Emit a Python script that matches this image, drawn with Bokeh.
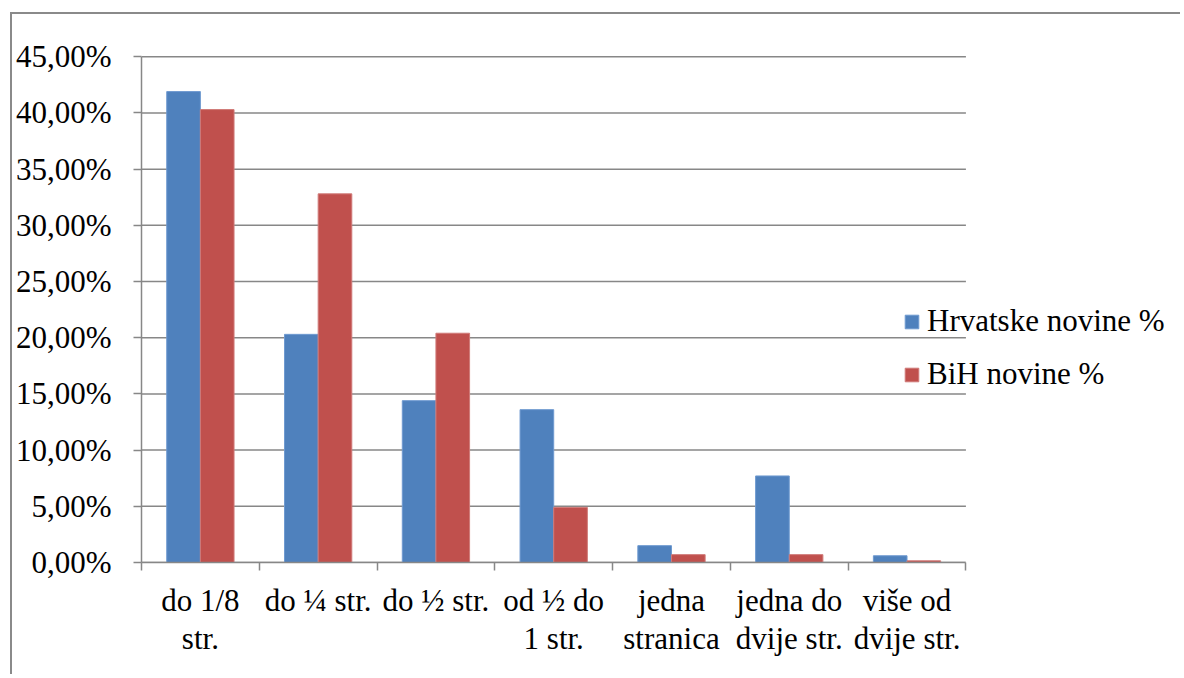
from bokeh.plotting import figure
from bokeh.models import FixedTicker, Legend, LegendItem, Range1d
from bokeh.embed import file_html
from bokeh.resources import INLINE

categories = ["do 1/8\nstr.", "do ¼ str.", "do ½ str.", "od ½ do\n1 str.",
              "jedna\nstranica", "jedna do\ndvije str.", "više od\ndvije str."]
hrvatske = [41.9, 20.3, 14.4, 13.6, 1.5, 7.7, 0.6]
bih = [40.3, 32.8, 20.4, 4.9, 0.7, 0.7, 0.15]
series_names = ["Hrvatske novine %", "BiH novine %"]
y_ticks = [0, 5, 10, 15, 20, 25, 30, 35, 40, 45]
y_tick_labels = ["0,00%", "5,00%", "10,00%", "15,00%", "20,00%", "25,00%",
                 "30,00%", "35,00%", "40,00%", "45,00%"]

FONT = "Liberation Serif"
FS = "31px"
GRAY = "#878787"
BLUE = "#4F81BD"
RED = "#C0504D"

n = len(categories)
W, H = 1170, 662
LEFT, TOP, BOTTOM = 127, 31, 114
cat_px = 118.0                     # pixel width of one category slot
frame_w = 826 + (W - LEFT - 826)   # frame runs to the canvas right edge
x_end = frame_w / cat_px

p = figure(width=W, height=H, output_backend="svg", toolbar_location=None,
           x_range=Range1d(0, x_end), y_range=Range1d(0, 46),
           min_border_left=LEFT, min_border_right=0, min_border_top=TOP,
           min_border_bottom=BOTTOM)
p.styles = {"margin-top": "12px", "margin-left": "10px",
            "border-top": "2px solid #8a8a8a", "border-left": "2px solid #8a8a8a"}
p.outline_line_color = None
p.background_fill_color = "white"
p.border_fill_color = "white"

# horizontal grid lines limited to the category area
p.segment(x0=[0] * len(y_ticks), x1=[n] * len(y_ticks), y0=y_ticks, y1=y_ticks,
          line_color=GRAY, line_width=1.5, level="underlay")

bw = 1 / 3.5
centers = [i + 0.5 for i in range(n)]
r1 = p.vbar(x=[c - bw / 2 for c in centers], top=hrvatske, width=bw, bottom=0,
            fill_color=BLUE, line_color="#6f9ad0", line_width=1)
r2 = p.vbar(x=[c + bw / 2 for c in centers], top=bih, width=bw, bottom=0,
            fill_color=RED, line_color="#d07a78", line_width=1)

# x axis
xa = p.xaxis[0]
xa.bounds = (0, n)
xa.ticker = FixedTicker(ticks=centers, minor_ticks=list(range(n + 1)))
xa.major_label_overrides = {c: lbl for c, lbl in zip(centers, categories)}
xa.major_tick_out = 0
xa.major_tick_in = 0
xa.minor_tick_out = 8
xa.minor_tick_in = 0
xa.minor_tick_line_color = GRAY
xa.minor_tick_line_width = 1.5
xa.axis_line_color = GRAY
xa.axis_line_width = 1.5
xa.major_label_text_font = FONT
xa.major_label_text_font_size = FS
xa.major_label_text_color = "black"
xa.major_label_text_line_height = 1.11
xa.major_label_standoff = 12

# y axis
ya = p.yaxis[0]
ya.bounds = (0, 45)
ya.ticker = FixedTicker(ticks=y_ticks, minor_ticks=[])
ya.major_label_overrides = {t: lbl for t, lbl in zip(y_ticks, y_tick_labels)}
ya.major_tick_out = 8
ya.major_tick_in = 0
ya.major_tick_line_color = GRAY
ya.major_tick_line_width = 1.5
ya.axis_line_color = GRAY
ya.axis_line_width = 1.5
ya.major_label_text_font = FONT
ya.major_label_text_font_size = FS
ya.major_label_text_color = "black"
ya.major_label_standoff = 22

p.xgrid.grid_line_color = None
p.ygrid.grid_line_color = None

legend = Legend(items=[LegendItem(label=series_names[0], renderers=[r1]),
                       LegendItem(label=series_names[1], renderers=[r2])],
                location=(762, 170))
legend.label_text_font = FONT
legend.label_text_font_size = FS
legend.label_text_color = "black"
legend.glyph_width = 17
legend.glyph_height = 17
legend.label_standoff = 7
legend.padding = 0
legend.margin = 0
legend.spacing = 17
legend.border_line_color = None
legend.background_fill_alpha = 0
p.add_layout(legend)

open("out.html", "w").write(file_html(p, INLINE))
